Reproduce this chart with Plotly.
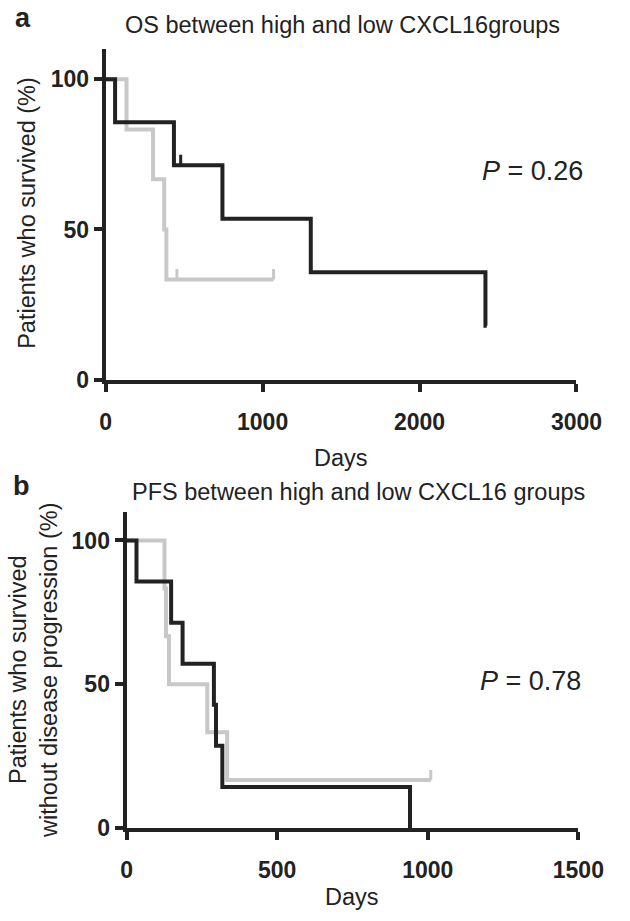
import plotly.graph_objects as go

# ---- Data ----
# Panel a: overall survival
os_high_days = [0, 60, 435, 744, 1307, 2420, 2428]
os_high_surv = [100, 85.7, 71.4, 53.6, 35.7, 17.9, 17.9]
os_high_cens_days = [478]
os_high_cens_surv = [71.4]

os_low_days = [0, 133, 302, 373, 387, 1070]
os_low_surv = [100, 83.3, 66.7, 50.0, 33.3, 33.3]
os_low_cens_days = [454, 1070]
os_low_cens_surv = [33.3, 33.3]

# Panel b: progression-free survival
pfs_high_days = [0, 33, 148, 186, 290, 297, 318, 941]
pfs_high_surv = [100, 85.7, 71.4, 57.1, 42.9, 28.6, 14.3, 0]

pfs_low_days = [0, 126, 131, 141, 268, 334, 1010]
pfs_low_surv = [100, 83.3, 66.7, 50.0, 33.3, 16.7, 16.7]
pfs_low_cens_days = [1010]
pfs_low_cens_surv = [16.7]

x_ticks_a = [0, 1000, 2000, 3000]
x_ticks_b = [0, 500, 1000, 1500]
y_ticks = [0, 50, 100]

p_value_a = "0.26"
p_value_b = "0.78"

# ---- Styling ----
W, H = 630, 921
BLACK = "#222222"
GRAY = "#c8c8c8"
FONT = "Liberation Sans, Arial, Helvetica, sans-serif"
LW = 4
CENSOR_H = 3.5  # height of censor tick in % units


def px_x(p):
    return p / W


def px_y(p):
    return 1 - p / H


fig = go.Figure()

def add_curve(x, y, color, xa, ya):
    fig.add_trace(go.Scatter(x=x, y=y, mode="lines", line=dict(color=color, width=LW, shape="hv"),
                             xaxis=xa, yaxis=ya, showlegend=False, hoverinfo="skip"))

def add_censor(x, y, color, xa, ya):
    cx, cy = [], []
    for d, s in zip(x, y):
        cx += [d, d, None]
        cy += [s, s + CENSOR_H, None]
    fig.add_trace(go.Scatter(x=cx, y=cy, mode="lines", line=dict(color=color, width=3),
                             xaxis=xa, yaxis=ya, showlegend=False, hoverinfo="skip"))

# Panel a
add_curve(os_low_days, os_low_surv, GRAY, "x", "y")
add_censor(os_low_cens_days, os_low_cens_surv, GRAY, "x", "y")
add_curve(os_high_days, os_high_surv, BLACK, "x", "y")
add_censor(os_high_cens_days, os_high_cens_surv, BLACK, "x", "y")

# Panel b
add_curve(pfs_low_days, pfs_low_surv, GRAY, "x2", "y2")
add_censor(pfs_low_cens_days, pfs_low_cens_surv, GRAY, "x2", "y2")
add_curve(pfs_high_days, pfs_high_surv, BLACK, "x2", "y2")

axis_common = dict(showline=True, linewidth=LW, linecolor=BLACK, ticks="outside", ticklen=8,
                   tickwidth=LW, tickcolor=BLACK, showgrid=False, zeroline=False,
                   tickfont=dict(family=FONT, size=23, color=BLACK, weight="bold"), fixedrange=True)

fig.update_layout(
    width=W, height=H, margin=dict(l=0, r=0, t=0, b=0),
    paper_bgcolor="white", plot_bgcolor="white",
    xaxis=dict(axis_common, domain=[px_x(105), px_x(601)], range=[0, 3000], tickvals=x_ticks_a,
               anchor="y", ticklabelstandoff=11),
    yaxis=dict(axis_common, domain=[px_y(385), px_y(50)], range=[0, 110], tickvals=y_ticks,
               anchor="x"),
    xaxis2=dict(axis_common, domain=[px_x(127), px_x(603)], range=[0, 1500], tickvals=x_ticks_b,
                anchor="y2", ticklabelstandoff=10),
    yaxis2=dict(axis_common, domain=[px_y(840), px_y(519)], range=[0, 110], tickvals=y_ticks,
                anchor="x2"),
)

def ann(text, x, y, size, xanchor="center", angle=0, bold=False):
    fig.add_annotation(text=text, x=px_x(x), y=px_y(y), xref="paper", yref="paper",
                       xanchor=xanchor, yanchor="middle", showarrow=False, textangle=angle,
                       font=dict(family=FONT, size=size, color=BLACK,
                                 weight="bold" if bold else "normal"))

# Panel labels
ann("a", 18, 18, 27, bold=True)
ann("b", 16, 493, 27, bold=True)

# Titles
ann("OS between high and low CXCL16groups", 354, 25, 23.5)
ann("PFS between high and low CXCL16 groups", 371, 499, 23.5)

# Axis titles
ann("Days", 353, 465, 23.5)
ann("Days", 365, 910, 23.5)
ann("Patients who survived (%)", 22, 216, 23.5, angle=-90)
ann("Patients who survived<br>without disease progression (%)", 29, 680, 23.5, angle=-90)

# P values
ann("<i>P</i> = " + p_value_a, 499, 173, 27, xanchor="left")
ann("<i>P</i> = " + p_value_b, 497, 691, 27, xanchor="left")

fig.write_html("out.html", config={"displayModeBar": False},
               post_script="document.body.style.margin='0';document.body.style.overflow='hidden';")
